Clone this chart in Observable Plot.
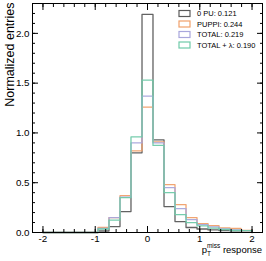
<!DOCTYPE html>
<html><head><meta charset="utf-8">
<script src="https://cdn.jsdelivr.net/npm/d3@7"></script>
<script src="https://cdn.jsdelivr.net/npm/@observablehq/plot@0.6"></script>
<style>body{margin:0;background:#fff}</style>
</head><body><div id="chart"></div>
<script>
const binEdges = [-2, -1.789, -1.579, -1.368, -1.158, -0.947, -0.737, -0.526, -0.316, -0.105,
  0.105, 0.316, 0.526, 0.737, 0.947, 1.158, 1.368, 1.579, 1.789, 2];
const zeroPU  = [0,0,0,0,0, 0.015, 0.06, 0.21, 0.80, 2.19, 0.93, 0.26, 0.11, 0.05, 0.035, 0.026, 0.02, 0.017, 0.018];
const puppi   = [0,0,0,0,0, 0.05, 0.15, 0.37, 0.82, 1.26, 0.91, 0.48, 0.28, 0.15, 0.09, 0.07, 0.046, 0.04, 0.02];
const total   = [0,0,0,0,0, 0.04, 0.15, 0.355, 0.90, 1.37, 0.90, 0.45, 0.24, 0.13, 0.08, 0.056, 0.036, 0.025, 0.018];
const totalL  = [0,0,0,0,0, 0.035, 0.125, 0.35, 0.96, 1.53, 0.875, 0.40, 0.18, 0.10, 0.066, 0.043, 0.03, 0.02, 0.018];
const seriesNames = ["0 PU: 0.121", "PUPPI: 0.244", "TOTAL: 0.219", "TOTAL + \u03bb: 0.190"];
const seriesColors = ["#5a5a5a", "#f0a06a", "#a8a6dc", "#6fcaa9"];
const seriesValues = [zeroPU, puppi, total, totalL];
const xMajor = [-2, -1, 0, 1, 2];
const xMinor = [-2.2,-2,-1.8,-1.6,-1.4,-1.2,-1,-0.8,-0.6,-0.4,-0.2,0,0.2,0.4,0.6,0.8,1,1.2,1.4,1.6,1.8,2,2.2];
const yMajor = [0, 0.5, 1, 1.5, 2];
const yMinor = [0,0.1,0.2,0.3,0.4,0.5,0.6,0.7,0.8,0.9,1,1.1,1.2,1.3,1.4,1.5,1.6,1.7,1.8,1.9,2,2.1,2.2,2.3];

function stepPoints(vals) {
  const pts = [{x: binEdges[0], y: 0}];
  vals.forEach((v, i) => pts.push({x: binEdges[i], y: v}));
  pts.push({x: binEdges[binEdges.length - 1], y: vals[vals.length - 1]});
  pts.push({x: binEdges[binEdges.length - 1], y: 0});
  return pts;
}

const font = "'Liberation Sans', Arial, Helvetica, sans-serif";
const lines = seriesValues.map((vals, i) =>
  Plot.line(stepPoints(vals), {x: "x", y: "y", curve: "step-after", stroke: seriesColors[i], strokeWidth: 1.3, strokeOpacity: 0.95}));

const noLabel = () => "";
const plot = Plot.plot({
  width: 266, height: 261,
  marginLeft: 32, marginRight: 4, marginTop: 3, marginBottom: 29,
  x: {domain: [-2.2, 2.2]},
  y: {domain: [0, 2.3]},
  style: {fontFamily: font, fontSize: "9.8px", color: "#000", background: "#fff"},
  marks: [
    ...lines,
    Plot.frame({stroke: "#000", strokeWidth: 1}),
    Plot.axisX(xMajor, {anchor: "bottom", tickSize: 0, tickPadding: 3, tickFormat: d => String(d), label: null}),
    Plot.axisX(xMajor, {anchor: "bottom", tickSize: -6, tickFormat: noLabel, label: null}),
    Plot.axisX(xMinor, {anchor: "bottom", tickSize: -3, tickFormat: noLabel, label: null}),
    Plot.axisX(xMajor, {anchor: "top", tickSize: -6, tickFormat: noLabel, label: null}),
    Plot.axisX(xMinor, {anchor: "top", tickSize: -3, tickFormat: noLabel, label: null}),
    Plot.axisY(yMajor, {anchor: "left", tickSize: 0, tickPadding: 3, tickFormat: d3.format(".1f"), label: null}),
    Plot.axisY(yMajor, {anchor: "left", tickSize: -6, tickFormat: noLabel, label: null}),
    Plot.axisY(yMinor, {anchor: "left", tickSize: -3, tickFormat: noLabel, label: null}),
    Plot.axisY(yMajor, {anchor: "right", tickSize: -6, tickFormat: noLabel, label: null}),
    Plot.axisY(yMinor, {anchor: "right", tickSize: -3, tickFormat: noLabel, label: null}),
    Plot.text(["Normalized entries"], {frameAnchor: "top-left", rotate: -90, textAnchor: "end", lineAnchor: "bottom", dx: -19, dy: -1, fontSize: 12.5})
  ]
});
document.getElementById("chart").appendChild(plot);

const svg = d3.select(plot);
// x-axis label with sub/superscript
const xl = svg.append("text").attr("x", 262).attr("y", 253).attr("text-anchor", "end")
  .attr("font-family", font).attr("font-size", 9.5).attr("fill", "#000");
xl.append("tspan").text("p");
xl.append("tspan").attr("font-size", 6.5).attr("dy", 2.5).text("T");
xl.append("tspan").attr("font-size", 6.5).attr("dx", -4).attr("dy", -7.5).text("miss");
xl.append("tspan").attr("dy", 5).text(" response");

// legend
const lg = svg.append("g").attr("font-family", font).attr("font-size", 7.5).attr("text-anchor", "start");
seriesNames.forEach((name, i) => {
  const cy = 13.5 + i * 10.5;
  lg.append("rect").attr("x", 179).attr("y", cy - 3).attr("width", 11).attr("height", 6)
    .attr("fill", "none").attr("stroke", seriesColors[i]).attr("stroke-width", 1.2);
  lg.append("text").attr("x", 197).attr("y", cy).attr("dy", "0.35em").attr("text-anchor", "start").attr("fill", "#000").text(name);
});
</script>
</body></html>
